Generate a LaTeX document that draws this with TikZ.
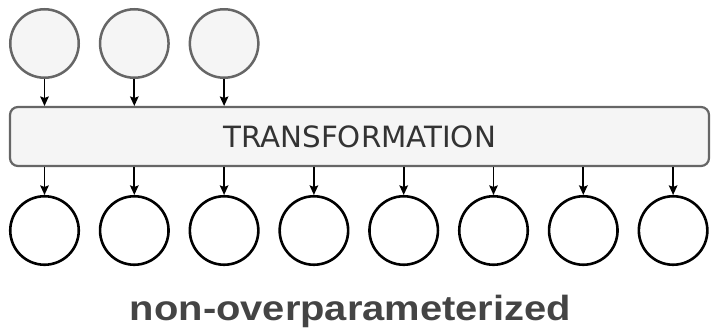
\documentclass[tikz,border=0pt]{standalone}
\usepackage{fontspec}
\setmainfont{DejaVu Sans}
\newfontfamily\boldlabel{Liberation Sans}
\usetikzlibrary{arrows.meta}
\definecolor{boxfill}{HTML}{F5F5F5}
\definecolor{boxline}{HTML}{666666}
\definecolor{txtdark}{HTML}{333333}
\definecolor{labelgray}{HTML}{444444}
\begin{document}
\begin{tikzpicture}[x=1pt,y=-1pt,
  incirc/.style={circle,draw=boxline,fill=boxfill,line width=2.5pt,minimum size=68.5pt,inner sep=0pt},
  outcirc/.style={circle,draw=black,fill=white,line width=2.6pt,minimum size=68.5pt,inner sep=0pt},
  tbox/.style={rectangle,rounded corners=8pt,draw=boxline,fill=boxfill,line width=2.2pt,minimum width=699pt,minimum height=59pt,inner sep=0pt},
  conn/.style={line width=1.8pt,-{Stealth[length=9.5pt,width=8.5pt,inset=1.5pt]}}
]
\useasboundingbox (0,0) rectangle (711,331);
\node[tbox] (box) at (359.5,136.5) {};
\node[anchor=base,text=txtdark,font=\fontsize{29.3}{32}\selectfont] (lbl) at (359.7,147.7) {TRANSFORMATION};
\foreach \i in {0,1,2} {
  \node[incirc] (in\i) at ({44.5+89.8*\i},43.5) {};
  \coordinate (bt\i) at ({44.5+89.8*\i},106);
  \draw[conn] (in\i.south) -- (bt\i);
}
\foreach \i in {0,...,7} {
  \node[outcirc] (out\i) at ({44.5+89.8*\i},230.5) {};
  \coordinate (bb\i) at ({44.5+89.8*\i},167);
  \draw[conn] (bb\i) -- (out\i.north);
}
\node[anchor=base,text=labelgray,font=\boldlabel\bfseries\fontsize{35}{40}\selectfont] (cap) at (350.5,320.5) {\scalebox{1.14}[1]{non-overparameterized}};
\end{tikzpicture}
\end{document}
